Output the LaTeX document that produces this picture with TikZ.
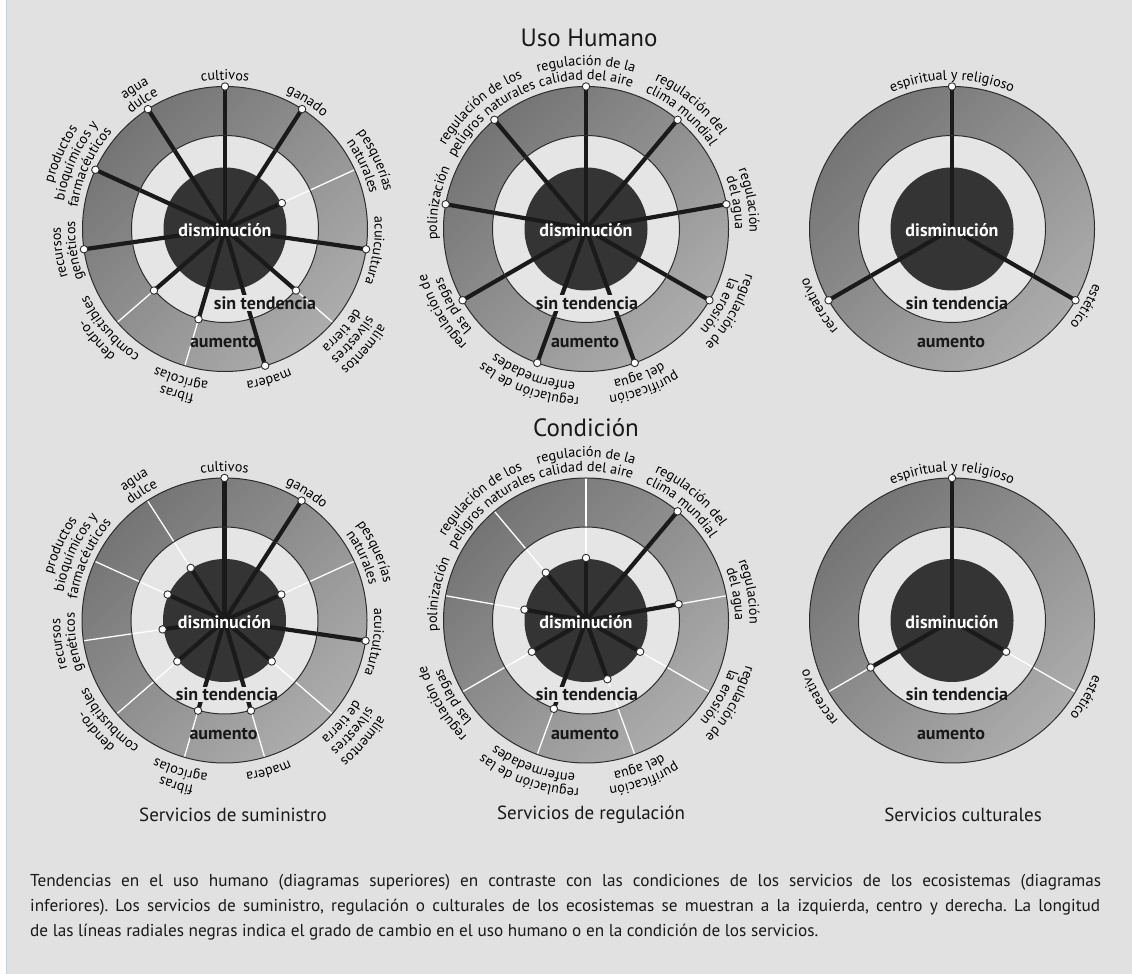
\documentclass[tikz,border=0pt]{standalone}
\usepackage{fontspec}
\setmainfont{PT Sans}
\usetikzlibrary{decorations.text}
\frenchspacing

% palette
\definecolor{bgcol}{RGB}{225,225,225}
\definecolor{ringlight}{RGB}{229,229,229}
\definecolor{discdark}{RGB}{52,52,52}
\definecolor{spokecol}{RGB}{26,26,26}
\definecolor{rimcol}{RGB}{45,45,45}
\definecolor{inkcol}{RGB}{25,25,25}
\definecolor{rgE}{RGB}{150,150,150}
\definecolor{rgA}{RGB}{178,178,178}
\definecolor{rgB}{RGB}{163,163,163}
\definecolor{rgC}{RGB}{126,126,126}
\definecolor{rgD}{RGB}{86,86,86}

% shading of the outer ring (50bp = outer radius, 32.8bp = inner edge)
\pgfdeclareradialshading{ringshade}{\pgfpoint{0bp}{0bp}}{%
  color(0bp)=(rgE); color(32.8bp)=(rgE); color(34.8bp)=(rgA);
  color(40bp)=(rgB); color(46bp)=(rgC); color(50bp)=(rgD)}

% radii of the rings and of the three value levels
\def\Ro{142.5}
\def\Rm{93.5}
\def\Rd{61.5}
\def\Rlo{62.5}
\def\Rmid{94}

\newcommand\labfont{\fontsize{14.2}{17}\selectfont}
\newcommand\ctrfont{\fontsize{18}{20}\selectfont\bfseries}

\tikzset{
  spoke/.style={draw=spokecol, line width=4.2pt},
  gapline/.style={draw=white, line width=1.3pt},
  rim/.style={draw=rimcol, line width=1pt},
  dot/.style={circle, fill=white, draw=rimcol, line width=0.9pt, inner sep=0pt, minimum size=7.5pt},
  ctrlab/.style={font=\ctrfont, text=inkcol, inner sep=0pt},
  stbox/.style={ctrlab, fill=ringlight, text opacity=0, inner xsep=3pt, inner ysep=1pt},
  heading/.style={font=\fontsize{25}{29}\selectfont, text=inkcol, inner sep=0pt},
  rowlab/.style={font=\fontsize{19}{22}\selectfont, text=inkcol, inner sep=0pt},
  caption/.style={font=\fontsize{17.2}{21}\selectfont, text=inkcol, inner sep=0pt, anchor=base west},
}

% one line of a label, set clockwise along an arc around the wheel centre;
% lines on the lower half sit a little further out
\newcommand\arclab[3]{%
  \pgfmathsetmacro\lr{#2+5*max(0,-sin(#1))}%
  \path[decorate, decoration={text along path, text align=center,
      text={|\labfont|#3}}]
    (#1+70:\lr) arc[start angle=#1+70, end angle=#1-70, radius=\lr];}

\newcommand\provlabels{%
  \arclab{90}{149}{cultivos}
  \arclab{57.27}{149}{ganado}
  \arclab{24.55}{163.5}{pesquerías}\arclab{24.55}{149}{naturales}
  \arclab{-8.18}{149}{acuicultura}
  \arclab{-40.91}{178}{alimentos}\arclab{-40.91}{163.5}{silvestres}\arclab{-40.91}{149}{de tierra}
  \arclab{-73.64}{149}{madera}
  \arclab{-106.36}{163.5}{fibras}\arclab{-106.36}{149}{agrícolas}
  \arclab{-139.09}{163.5}{dendro-}\arclab{-139.09}{149}{combustibles}
  \arclab{-171.82}{163.5}{recursos}\arclab{-171.82}{149}{genéticos}
  \arclab{155.45}{178}{productos}\arclab{155.45}{163.5}{bioquímicos y}\arclab{155.45}{149}{farmacéuticos}
  \arclab{122.73}{163.5}{agua}\arclab{122.73}{149}{dulce}}

\newcommand\reglabels{%
  \arclab{90}{163.5}{regulación de la}\arclab{90}{149}{calidad del aire}
  \arclab{50}{163.5}{regulación del}\arclab{50}{149}{clima mundial}
  \arclab{10}{163.5}{regulación}\arclab{10}{149}{del agua}
  \arclab{-30}{163.5}{regulación de}\arclab{-30}{149}{la erosión}
  \arclab{-70}{163.5}{purificación}\arclab{-70}{149}{del agua}
  \arclab{-110}{163.5}{regulación de las}\arclab{-110}{149}{enfermedades}
  \arclab{-150}{163.5}{regulación de}\arclab{-150}{149}{las plagas}
  \arclab{170}{149}{polinización}
  \arclab{131}{163.5}{regulación de los}\arclab{130.5}{149}{peligros naturales}}

\newcommand\cultlabels{%
  \arclab{90}{149}{espiritual y religioso}
  \arclab{-30}{149}{estético}
  \arclab{210}{149}{recreativo}}

% #1 name prefix, #2 x, #3 y, #4 number of services,
% #5 levels (0 decrease, 1 no trend, 2 increase), #6 labels, #7 x of "sin tendencia"
\newcommand\drawwheel[7]{%
\begin{scope}[shift={(#2,#3)}]
  \coordinate (#1c) at (0,0);
  \shade[shading=ringshade] (#1c) circle (\Ro);
  \shade[even odd rule, top color=black, bottom color=white, shading angle=45,
         fill opacity=0.22] (#1c) circle (\Ro) (#1c) circle (\Rm);
  \fill[ringlight] (#1c) circle (\Rm);
  \fill[discdark] (#1c) circle (\Rd);
  \foreach \v [count=\k from 0] in {#5} {
    \pgfmathsetmacro\ang{90-\k*360/#4}
    \pgfmathsetmacro\rad{\v==0 ? \Rlo : (\v==1 ? \Rmid : \Ro)}
    \coordinate (#1d\k) at (\ang:\rad);
    \coordinate (#1e\k) at (\ang:\Ro);
    \draw[spoke] (#1c) -- (#1d\k);
    \ifnum\v<2 \draw[gapline] (#1d\k) -- (#1e\k);\fi
  }
  % light halo behind "sin tendencia", kept inside the light ring
  \begin{scope}
    \clip (#1c) circle (\Rm);
    \node[stbox] (#1stb) at (#7,-74) {sin tendencia};
  \end{scope}
  \draw[rim] (#1c) circle (\Ro);
  \draw[rim] (#1c) circle (\Rm);
  \foreach \v [count=\k from 0] in {#5} {
    \pgfmathsetmacro\ang{90-\k*360/#4}
    \pgfmathsetmacro\rad{\v==0 ? \Rlo : (\v==1 ? \Rmid : \Ro)}
    \node[dot] (#1p\k) at (\ang:\rad) {};
  }
  \node[ctrlab, text=white] (#1dis) at (0,-1.5) {disminución};
  \node[ctrlab] (#1sin) at (#7,-74) {sin tendencia};
  \node[ctrlab] (#1aum) at (-1,-113) {aumento};
  #6
\end{scope}}

\begin{document}
\begin{tikzpicture}[x=1pt,y=1pt]
  \useasboundingbox (0,0) rectangle (1132,974);
  \fill[bgcol] (0,0) rectangle (1132,974);
  \fill[white!95!bgcol] (0,0) rectangle (6,974);
  \draw[draw={rgb,255:red,196;green,206;blue,222}, line width=0.8pt] (6,0) -- (6,974);

  \node[heading] (titleuse) at (589,936) {Uso Humano};
  \node[heading] (titlecond) at (586,546) {Condición};

  % human use (top row)
  \drawwheel{tl}{225}{745}{11}{2,2,0,2,1,2,1,1,2,2,2}{\provlabels}{40}
  \drawwheel{tm}{586}{745}{9}{2,2,2,2,2,2,2,2,2}{\reglabels}{1}
  \drawwheel{tr}{952}{745}{3}{2,2,2}{\cultlabels}{5}

  % condition (bottom row)
  \drawwheel{bl}{224.5}{353.5}{11}{2,2,0,2,0,1,1,0,0,0,0}{\provlabels}{2.5}
  \drawwheel{bm}{586}{353.5}{9}{0,2,1,0,0,1,0,0,0}{\reglabels}{1}
  \drawwheel{br}{952}{353.5}{3}{2,0,1}{\cultlabels}{5}

  \node[rowlab] (rowprov) at (233,159) {Servicios de suministro};
  \node[rowlab] (rowreg) at (591,159) {Servicios de regulación};
  \node[rowlab] (rowcult) at (963,159) {Servicios culturales};

  % caption: the first two lines are set full width
  \node[caption] (cap1) at (30,87) {\makebox[1071pt][s]{Tendencias en el uso humano (diagramas superiores) en contraste con las condiciones de los servicios de los ecosistemas (diagramas}};
  \node[caption] (cap2) at (30,62) {\makebox[1070pt][s]{inferiores). Los servicios de suministro, regulación o culturales de los ecosistemas se muestran a la izquierda, centro y derecha. La longitud}};
  \node[caption] (cap3) at (30,37) {de las líneas radiales negras indica el grado de cambio en el uso humano o en la condición de los servicios.};
\end{tikzpicture}
\end{document}
